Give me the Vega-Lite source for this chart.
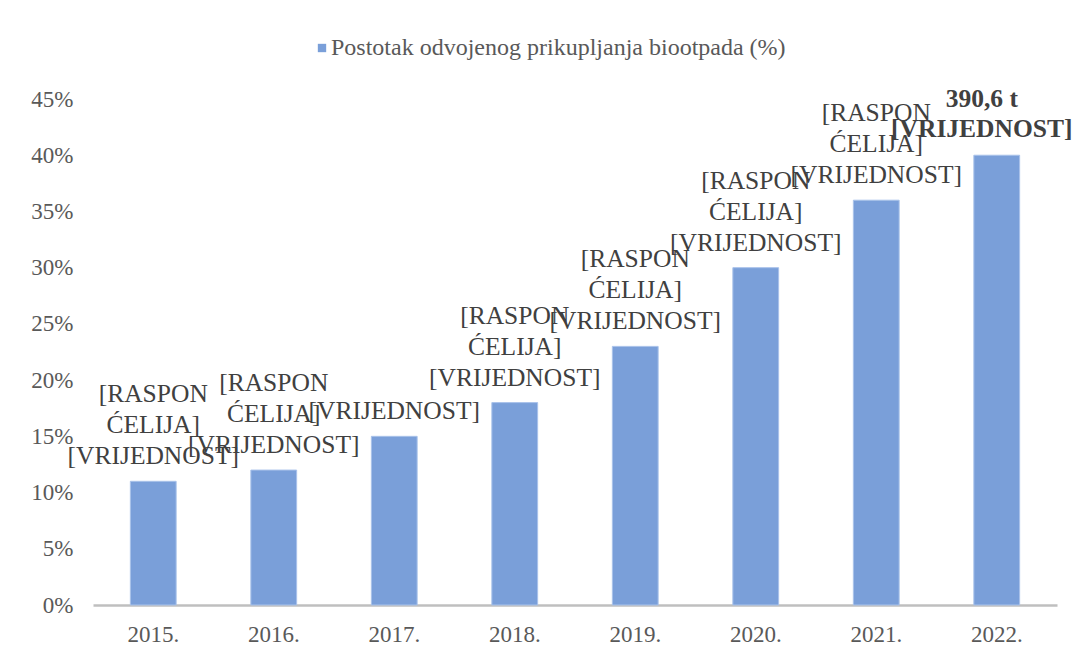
{
  "$schema": "https://vega.github.io/schema/vega-lite/v6.json",
  "width": 964,
  "height": 506,
  "autosize": {"type": "none"},
  "padding": {"left": 93, "top": 99, "right": 15, "bottom": 50},
  "background": "white",
  "config": {
    "view": {"stroke": null},
    "font": "Liberation Serif"
  },
  "data": {
    "values": [
      {"year": "2015.", "value": 0.11, "label": "[RASPON\nĆELIJA]\n[VRIJEDNOST]", "lines": 3, "bold": false, "series": "Postotak odvojenog prikupljanja biootpada (%)"},
      {"year": "2016.", "value": 0.12, "label": "[RASPON\nĆELIJA]\n[VRIJEDNOST]", "lines": 3, "bold": false, "series": "Postotak odvojenog prikupljanja biootpada (%)"},
      {"year": "2017.", "value": 0.15, "label": "[VRIJEDNOST]", "lines": 1, "bold": false, "series": "Postotak odvojenog prikupljanja biootpada (%)"},
      {"year": "2018.", "value": 0.18, "label": "[RASPON\nĆELIJA]\n[VRIJEDNOST]", "lines": 3, "bold": false, "series": "Postotak odvojenog prikupljanja biootpada (%)"},
      {"year": "2019.", "value": 0.23, "label": "[RASPON\nĆELIJA]\n[VRIJEDNOST]", "lines": 3, "bold": false, "series": "Postotak odvojenog prikupljanja biootpada (%)"},
      {"year": "2020.", "value": 0.30, "label": "[RASPON\nĆELIJA]\n[VRIJEDNOST]", "lines": 3, "bold": false, "series": "Postotak odvojenog prikupljanja biootpada (%)"},
      {"year": "2021.", "value": 0.36, "label": "[RASPON\nĆELIJA]\n[VRIJEDNOST]", "lines": 3, "bold": false, "series": "Postotak odvojenog prikupljanja biootpada (%)"},
      {"year": "2022.", "value": 0.40, "label": "390,6 t\n[VRIJEDNOST]", "lines": 2, "bold": true, "series": "Postotak odvojenog prikupljanja biootpada (%)"}
    ]
  },
  "encoding": {
    "x": {
      "field": "year",
      "type": "nominal",
      "sort": null,
      "scale": {"paddingInner": 0.62, "paddingOuter": 0.31},
      "axis": {
        "title": null,
        "labelAngle": 0,
        "labelFont": "Liberation Serif",
        "labelFontSize": 23,
        "labelColor": "#595959",
        "labelPadding": 18,
        "ticks": false,
        "domainColor": "#BFBFBF",
        "domainWidth": 2.5,
        "grid": false
      }
    },
    "y": {
      "field": "value",
      "type": "quantitative",
      "scale": {"domain": [0, 0.45], "nice": false},
      "axis": {
        "title": null,
        "values": [0, 0.05, 0.1, 0.15, 0.2, 0.25, 0.3, 0.35, 0.4, 0.45],
        "format": ".0%",
        "labelFont": "Liberation Serif",
        "labelFontSize": 23,
        "labelColor": "#595959",
        "labelPadding": 20,
        "ticks": false,
        "domain": false,
        "grid": false
      }
    }
  },
  "layer": [
    {
      "mark": {"type": "bar", "stroke": "#A9C2EA", "strokeWidth": 1},
      "encoding": {
        "color": {
          "field": "series",
          "type": "nominal",
          "scale": {"range": ["#7A9FD9"]},
          "legend": {
            "title": null,
            "orient": "none",
            "legendX": 217,
            "legendY": -63,
            "symbolType": "square",
            "symbolSize": 70,
            "symbolStrokeWidth": 0,
            "labelFont": "Liberation Serif",
            "labelFontSize": 24,
            "labelColor": "#595959",
            "labelOffset": -3,
            "labelLimit": 700,
            "padding": 0
          }
        }
      }
    },
    {
      "transform": [{"filter": "datum.lines == 3"}],
      "mark": {
        "type": "text",
        "baseline": "bottom",
        "align": "center",
        "lineBreak": "\n",
        "lineHeight": 31,
        "fontSize": 25.5,
        "font": "Liberation Serif",
        "color": "#404040",
        "dy": -74
      },
      "encoding": {"text": {"field": "label"}}
    },
    {
      "transform": [{"filter": "datum.lines == 1"}],
      "mark": {
        "type": "text",
        "baseline": "bottom",
        "align": "center",
        "lineBreak": "\n",
        "lineHeight": 31,
        "fontSize": 25.5,
        "font": "Liberation Serif",
        "color": "#404040",
        "dy": -12
      },
      "encoding": {"text": {"field": "label"}}
    },
    {
      "transform": [{"filter": "datum.lines == 2"}],
      "mark": {
        "type": "text",
        "baseline": "bottom",
        "align": "center",
        "lineBreak": "\n",
        "lineHeight": 30,
        "fontSize": 25.5,
        "fontWeight": "bold",
        "font": "Liberation Serif",
        "color": "#404040",
        "dy": -43,
        "dx": -15
      },
      "encoding": {"text": {"field": "label"}}
    }
  ]
}
